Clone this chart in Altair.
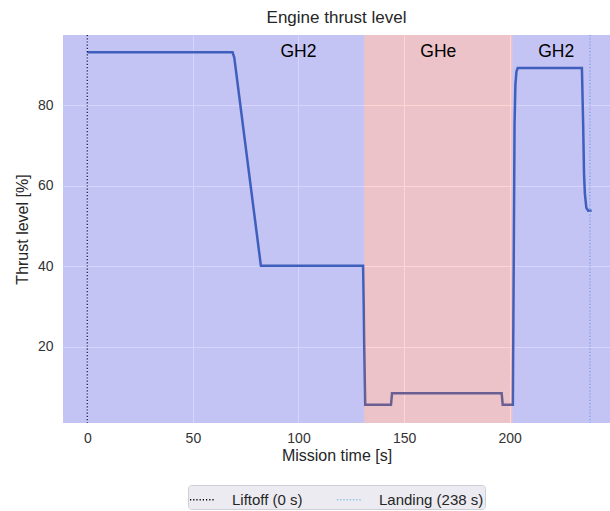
import altair as alt
import pandas as pd

# ---- data ----
time_s = [0, 68.8, 69.6, 82.2, 130.6, 130.9, 131.1, 131.6, 143.8, 144.3, 196.2, 196.7,
          201.5, 201.9, 202.3, 202.7, 203.2, 203.8, 234.2, 234.8, 235.2, 235.6, 236.3, 237.2, 238.8]
thrust_pct = [93.1, 93.1, 91.8, 40.1, 40.1, 30.0, 21.0, 5.6, 5.6, 8.5, 8.5, 5.6,
              5.6, 40.0, 75.0, 85.0, 88.3, 89.2, 89.2, 75.0, 63.0, 58.0, 54.5, 53.8, 53.8]

span_start = [-11.5, 131.1, 201.3]
span_end = [131.1, 201.3, 247.5]
span_gas = ["GH2", "GHe", "GH2"]
span_color = ["blue", "red", "blue"]

label_text = ["GH2", "GHe", "GH2"]
label_t = [100, 166.2, 222]
label_y = [93.3, 93.3, 93.3]

event_labels = ["Liftoff (0 s)", "Landing (238 s)"]
event_t = [0, 238]
event_colors = ["black", "#7FB8E6"]

x_domain = [-11.5, 247.5]
y_domain = [1.1, 97.4]

FONT = "Liberation Sans"

line_df = pd.DataFrame({"t": time_s, "thrust": thrust_pct})
span_df = pd.DataFrame({"start": span_start, "end": span_end, "gas": span_gas, "col": span_color})
label_df = pd.DataFrame({"text": label_text, "t": label_t, "y": label_y})
event_df = pd.DataFrame({"event": event_labels, "t": event_t})

xscale = alt.Scale(domain=x_domain, nice=False, zero=False)
yscale = alt.Scale(domain=y_domain, nice=False, zero=False)

x_axis = alt.Axis(title="Mission time [s]", values=[0, 50, 100, 150, 200])
y_axis = alt.Axis(title="Thrust level [%]", values=[20, 40, 60, 80])

line = alt.Chart(line_df).mark_line(color="#4C72B0", strokeWidth=2.5, clip=True).encode(
    x=alt.X("t:Q", scale=xscale, axis=x_axis),
    y=alt.Y("thrust:Q", scale=yscale, axis=y_axis),
    order="t:Q",
)

rules = alt.Chart(event_df).mark_rule(strokeWidth=1.1, strokeDash=[1.2, 2]).encode(
    x=alt.X("t:Q", scale=xscale),
    color=alt.Color(
        "event:N",
        scale=alt.Scale(domain=event_labels, range=event_colors),
        sort=event_labels,
        legend=alt.Legend(
            title=None,
            orient="none",
            legendX=125,
            legendY=450,
            direction="horizontal",
            columns=2,
            symbolType="stroke",
            symbolSize=625,
            symbolStrokeWidth=1.4,
            symbolDash=[1.2, 2],
            labelFontSize=15,
            labelFont=FONT,
            labelColor="#262626",
            labelOffset=16,
            columnPadding=31,
            padding=1,
            fillColor="#EBEBF1",
            strokeColor="#CFCFD6",
            cornerRadius=3,
        ),
    ),
)

spans = alt.Chart(span_df).mark_rect(opacity=0.165, clip=True).encode(
    x=alt.X("start:Q", scale=xscale),
    x2="end:Q",
    fill=alt.Fill("col:N", scale=None, legend=None),
)

labels = alt.Chart(label_df).mark_text(
    fontSize=17.5, font=FONT, color="black", baseline="middle", align="center"
).encode(
    x=alt.X("t:Q", scale=xscale),
    y=alt.Y("y:Q", scale=yscale),
    text="text:N",
)

chart = alt.layer(line, rules, spans, labels).properties(
    width=547,
    height=388,
    autosize=alt.AutoSizeParams(type="none"),
    padding={"left": 63, "top": 35, "right": 0, "bottom": 88},
    title=alt.TitleParams(
        "Engine thrust level", fontSize=17, font=FONT, fontWeight="normal",
        color="#262626", anchor="middle", offset=7,
    ),
).configure_view(
    fill="#EAEAF2", stroke=None
).configure_axis(
    grid=True, gridColor="white", gridWidth=1, domain=False, ticks=False,
    labelFont=FONT, labelFontSize=14, labelColor="#333333",
    titleFont=FONT, titleFontSize=16, titleFontWeight="normal", titleColor="#262626",
).configure_axisX(
    labelPadding=8, titlePadding=2,
).configure_axisY(
    labelPadding=10, titlePadding=7,
)

chart.save("out.html", embed_options={"renderer": "svg", "actions": False})
